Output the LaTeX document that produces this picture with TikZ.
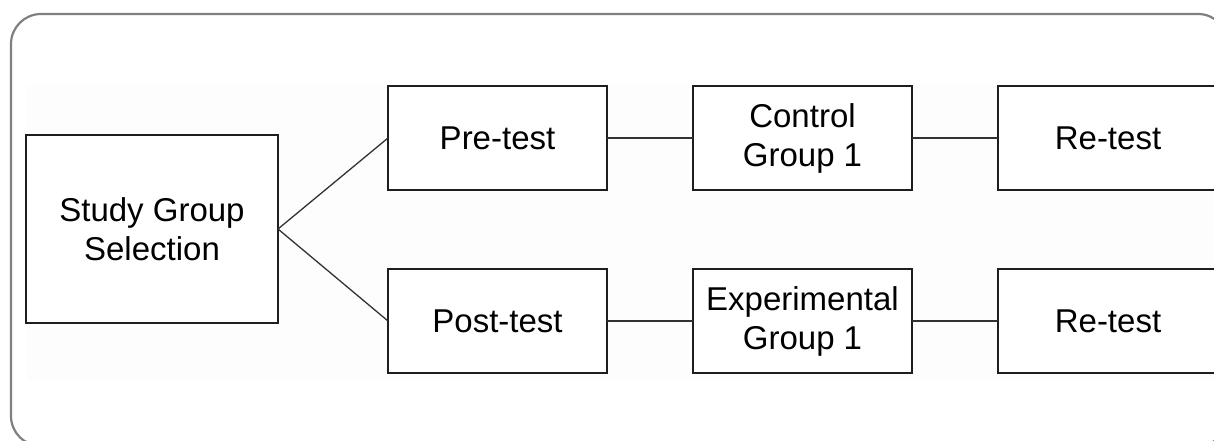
\documentclass[tikz,border=0pt]{standalone}
\usepackage{fontspec}
\setmainfont{Liberation Sans}
\definecolor{framegray}{RGB}{128,128,128}
\definecolor{bandgray}{RGB}{253,253,253}
\definecolor{boxline}{RGB}{30,30,30}
\definecolor{conline}{RGB}{50,50,50}
\begin{document}
\begin{tikzpicture}[x=1pt,y=-1pt,
  box/.style={draw=boxline, line width=1.5pt, fill=white, inner sep=0pt, outer sep=0pt,
    align=center, font=\fontsize{33}{39}\selectfont},
  smallbox/.style={box, minimum width=219pt, minimum height=104pt},
  con/.style={draw=conline, line width=1.3pt}]
\path[use as bounding box, clip] (0,0) rectangle (1214,441);
\fill[white] (0,0) rectangle (1214,441);
\draw[framegray, line width=2.2pt, rounded corners=30pt] (11,14) rectangle (1228,446);
\fill[bandgray] (27,85) rectangle (1214,380);
\node[box, minimum width=252pt, minimum height=188pt] (study) at (152,229) {Study Group\\Selection};
\node[smallbox] (pre) at (497.5,138) {Pre-test};
\node[smallbox] (ctrl) at (802.5,138) {Control\\Group 1};
\node[smallbox, minimum width=220pt] (re1) at (1108,138) {Re-test};
\node[smallbox] (post) at (497.5,321) {Post-test};
\node[smallbox] (exp) at (802.5,321) {Experimental\\Group 1};
\node[smallbox, minimum width=220pt] (re2) at (1108,321) {Re-test};
\draw[con] (study.east) -- (pre.west);
\draw[con] (study.east) -- (post.west);
\draw[con] (pre) -- (ctrl);
\draw[con] (ctrl) -- (re1);
\draw[con] (post) -- (exp);
\draw[con] (exp) -- (re2);
\end{tikzpicture}
\end{document}
